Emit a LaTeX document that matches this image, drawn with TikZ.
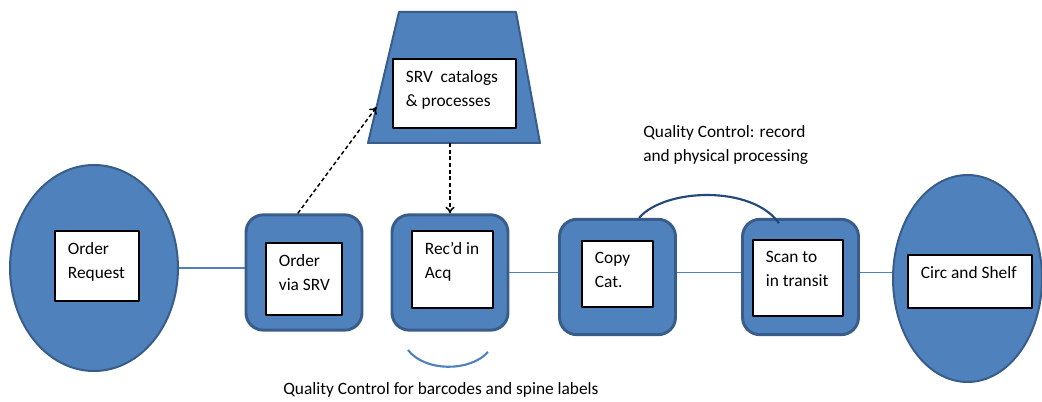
\documentclass[tikz,border=0pt]{standalone}
\usepackage{fontspec}
\setmainfont{Carlito}
\usetikzlibrary{shapes.geometric,calc,arrows.meta}
\definecolor{qcblue}{HTML}{4F81BD}
\definecolor{qcedge}{HTML}{385D8A}
\definecolor{qcnavy}{HTML}{24487A}
\begin{document}
\begin{tikzpicture}[x=0.75pt,y=-0.75pt,line join=round,
  font=\fontsize{13}{18}\selectfont,
  blob/.style={ellipse,draw=qcedge,fill=qcblue,line width=1.5pt,inner sep=0pt},
  stage/.style={draw=qcedge,fill=qcblue,line width=2.2pt,rounded corners=13pt,
    minimum width=87pt,minimum height=86.5pt,inner sep=0pt},
  card/.style={draw=black,fill=white,line width=1pt,inner sep=0pt},
  cardtext/.style={anchor=north west,align=left,inner sep=0pt,xshift=10pt,yshift=-9pt},
  link/.style={qcblue,line width=1pt},
  dasharrow/.style={-{To[length=5pt,width=7pt]},dash pattern=on 3pt off 2pt,line width=1.1pt},
  qcarc/.style={line width=1.6pt}]
  \useasboundingbox (0,0) rectangle (1042,402);
  % two ends of the chain
  \node[blob,minimum width=126pt,minimum height=154.5pt] (req) at (94,268) {};
  \node[blob,minimum width=111.75pt,minimum height=155.25pt] (circ) at (967.5,278.5) {};
  % four stages
  \node[stage] (order) at (304,272.5) {};
  \node[stage] (rec) at (450,272.5) {};
  \node[stage] (copy) at (617.5,277) {};
  \node[stage] (scan) at (800.5,277) {};
  % SRV trapezoid
  \coordinate (srvtl) at (399,12);
  \coordinate (srvtr) at (516,12);
  \coordinate (srvbr) at (540,143);
  \coordinate (srvbl) at (368,143);
  \draw[draw=qcedge,fill=qcblue,line width=1.5pt] (srvtl) -- (srvtr) -- (srvbr) -- (srvbl) -- cycle;
  % white cards with their texts
  \node[card,minimum width=63pt,minimum height=52.5pt] (reqcard) at (97,266) {};
  \node[cardtext] (reqtext) at (reqcard.north west) {Order\\Request};
  \node[card,minimum width=57pt,minimum height=54pt] (ordercard) at (304,279) {};
  \node[cardtext] (ordertext) at (ordercard.north west) {Order\\via SRV};
  \node[card,minimum width=60.75pt,minimum height=57.75pt] (reccard) at (452.5,269.5) {};
  \node[cardtext] (rectext) at (reccard.north west) {Rec’d in\\Acq};
  \node[card,minimum width=92.25pt,minimum height=51.75pt] (srvcard) at (454.5,93.5) {};
  \node[cardtext] (srvtext) at (srvcard.north west) {SRV\ \ catalogs\\\& processes};
  \node[card,minimum width=53.25pt,minimum height=49.5pt] (copycard) at (617.5,274) {};
  \node[cardtext] (copytext) at (copycard.north west) {Copy\\Cat.};
  \node[card,minimum width=67.5pt,minimum height=57pt] (scancard) at (798,278) {};
  \node[cardtext] (scantext) at (scancard.north west) {Scan to\\in transit};
  \node[card,minimum width=93pt,minimum height=39.75pt] (circcard) at (970,281.5) {};
  \node[cardtext] (circtext) at (circcard.north west) {Circ and Shelf};
  % links along the chain
  \draw[link] (req.east) -- (req.east -| order.west);
  \draw[link] (rec.east) -- (rec.east -| copy.west);
  \draw[link] (copy.east |- rec.east) -- (scan.west |- rec.east);
  \draw[link] (scan.east |- rec.east) -- (circ.west |- rec.east);
  % SRV hand-off
  \draw[dasharrow] (order.96) -- ($(srvbl)!0.275!(srvtl)$);
  \draw[dasharrow] (rec.north |- srvbl) -- (rec.north);
  % quality control checks
  \draw[qcnavy,qcarc] (copy.70) .. controls (665,188) and (752,185) .. ([yshift=-4pt]scan.110);
  \coordinate (qcl) at (408,350);
  \coordinate (qcr) at (488,352);
  \draw[qcblue,qcarc] (qcl) .. controls (425,372) and (470,372) .. (qcr);
  \node[anchor=west,align=left,inner sep=0pt] (qcrecord) at (643,145) {Quality Control: record\\and physical processing};
  \node[anchor=west,inner sep=0pt] (qcspine) at (283,390) {Quality Control for barcodes and spine labels};
\end{tikzpicture}
\end{document}
